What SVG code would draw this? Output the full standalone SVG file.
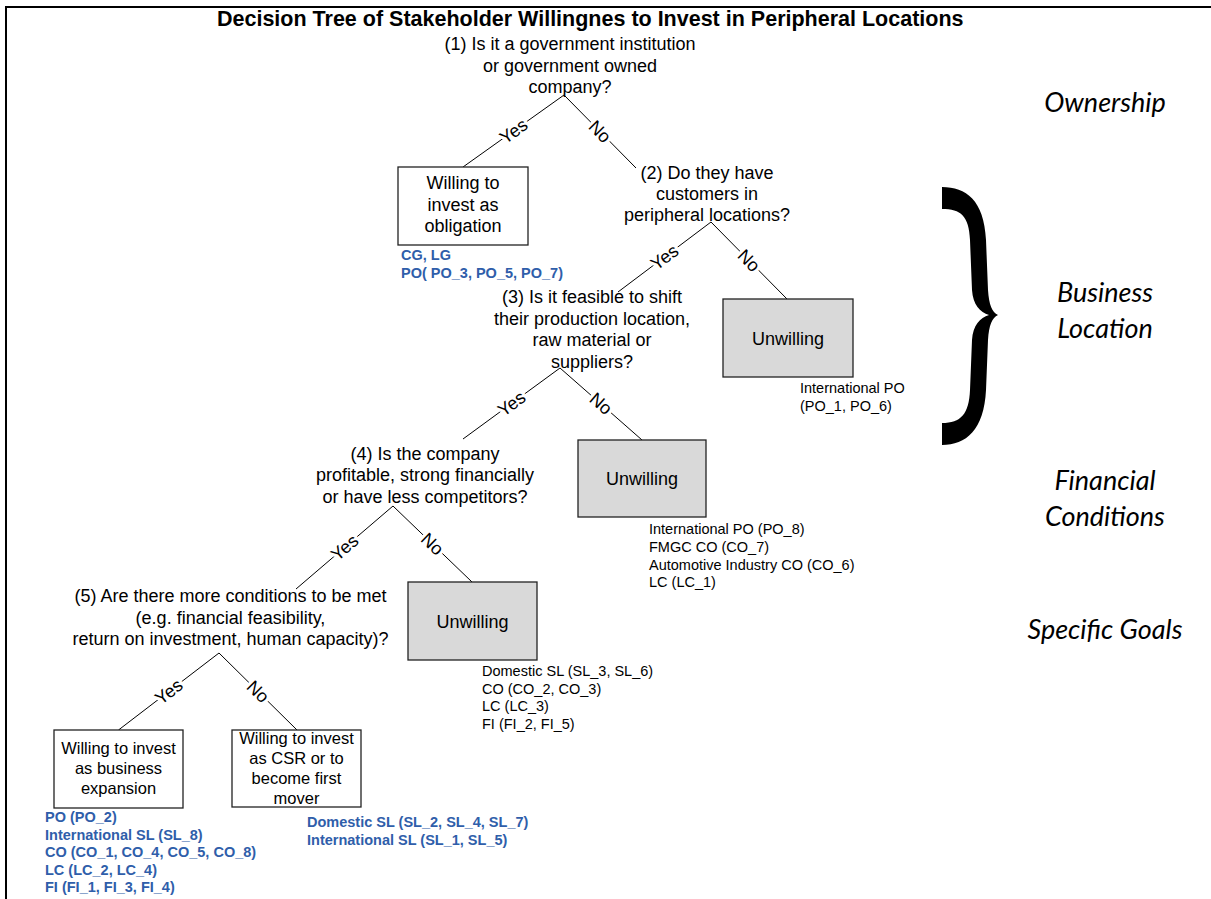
<svg xmlns="http://www.w3.org/2000/svg" width="1211" height="899" viewBox="0 0 1211 899">
<style>
.q{font-family:"Liberation Sans",Arial,sans-serif;font-size:18px;text-anchor:middle;fill:#000}
.lbl{font-family:"Liberation Sans",Arial,sans-serif;font-size:18px;text-anchor:middle;fill:#000;paint-order:stroke;stroke:#fff;stroke-width:6px;stroke-linejoin:round}
.b2{font-family:"Liberation Sans",Arial,sans-serif;font-size:16.5px;text-anchor:middle;fill:#000}
.sm{font-family:"Liberation Sans",Arial,sans-serif;font-size:14.5px;fill:#000}
.bl{font-family:"Liberation Sans",Arial,sans-serif;font-size:14.5px;font-weight:bold;fill:#2F5EAA}
.cat{font-family:Lato,"Open Sans",sans-serif;font-style:italic;font-size:27px;text-anchor:middle;fill:#000}
.title{font-family:"Liberation Sans",Arial,sans-serif;font-size:21.5px;font-weight:bold;fill:#000}
.box{fill:#fff;stroke:#222;stroke-width:1.3}
.gbox{fill:#D9D9D9;stroke:#222;stroke-width:1.3}
.con line{stroke:#000;stroke-width:1}
</style>
<rect x="0" y="0" width="1211" height="899" fill="#fff"/>
<path d="M6,899 V7 H1211" fill="none" stroke="#000" stroke-width="2"/>
<text class="title" x="217" y="26">Decision Tree of Stakeholder Willingnes to Invest in Peripheral Locations</text>

<g id="connectors" class="con">
<line x1="564" y1="95" x2="463" y2="167"/>
<line x1="564" y1="95" x2="636" y2="168"/>
<line x1="711" y1="222" x2="618" y2="292"/>
<line x1="711" y1="222" x2="787" y2="299"/>
<line x1="560" y1="368" x2="463" y2="439"/>
<line x1="560" y1="368" x2="642" y2="440"/>
<line x1="393" y1="506" x2="296" y2="589"/>
<line x1="393" y1="506" x2="472" y2="582"/>
<line x1="219" y1="653" x2="118.5" y2="730"/>
<line x1="219" y1="653" x2="297" y2="730"/>
<text class="lbl" transform="translate(513.5,131) rotate(-35.5)" dy="0.35em">Yes</text>
<text class="lbl" transform="translate(600,131.5) rotate(45.4)" dy="0.35em">No</text>
<text class="lbl" transform="translate(664.5,257) rotate(-37)" dy="0.35em">Yes</text>
<text class="lbl" transform="translate(749,260.5) rotate(45.4)" dy="0.35em">No</text>
<text class="lbl" transform="translate(511.5,403.5) rotate(-36.2)" dy="0.35em">Yes</text>
<text class="lbl" transform="translate(601,403.5) rotate(40.9)" dy="0.35em">No</text>
<text class="lbl" transform="translate(344.5,547.5) rotate(-40.6)" dy="0.35em">Yes</text>
<text class="lbl" transform="translate(432.5,544) rotate(43.9)" dy="0.35em">No</text>
<text class="lbl" transform="translate(168.75,691.5) rotate(-37.5)" dy="0.35em">Yes</text>
<text class="lbl" transform="translate(258,691.5) rotate(44.6)" dy="0.35em">No</text>
</g>

<g id="q1">
<text class="q" x="570" y="50">(1) Is it a government institution</text>
<text class="q" x="570" y="71.5">or government owned</text>
<text class="q" x="570" y="93">company?</text>
</g>
<g id="box-obligation">
<rect class="box" x="398" y="167" width="130" height="78"/>
<text class="q" x="463" y="189">Willing to</text>
<text class="q" x="463" y="210.5">invest as</text>
<text class="q" x="463" y="232">obligation</text>
<text class="bl" x="401" y="260">CG, LG</text>
<text class="bl" x="401" y="277.5">PO( PO_3, PO_5, PO_7)</text>
</g>
<g id="q2">
<text class="q" x="707" y="178.5">(2) Do they have</text>
<text class="q" x="707" y="200">customers in</text>
<text class="q" x="707" y="221">peripheral locations?</text>
</g>
<g id="unwilling-a">
<rect class="gbox" x="723" y="299" width="130" height="78"/>
<text class="q" x="788" y="344.5">Unwilling</text>
<text class="sm" x="800" y="393">International PO</text>
<text class="sm" x="800" y="411">(PO_1, PO_6)</text>
</g>
<g id="q3">
<text class="q" x="592" y="303">(3) Is it feasible to shift</text>
<text class="q" x="592" y="324.5">their production location,</text>
<text class="q" x="592" y="346">raw material or</text>
<text class="q" x="592" y="367.5">suppliers?</text>
</g>
<g id="unwilling-b">
<rect class="gbox" x="578" y="440" width="128" height="77"/>
<text class="q" x="642" y="484.5">Unwilling</text>
<text class="sm" x="649" y="534">International PO (PO_8)</text>
<text class="sm" x="649" y="551.8">FMGC CO (CO_7)</text>
<text class="sm" x="649" y="569.6">Automotive Industry CO (CO_6)</text>
<text class="sm" x="649" y="587.4">LC (LC_1)</text>
</g>
<g id="q4">
<text class="q" x="425" y="459.5">(4) Is the company</text>
<text class="q" x="425" y="481">profitable, strong financially</text>
<text class="q" x="425" y="502.5">or have less competitors?</text>
</g>
<g id="unwilling-c">
<rect class="gbox" x="408" y="582" width="129" height="78"/>
<text class="q" x="472.5" y="628">Unwilling</text>
<text class="sm" x="482" y="676">Domestic SL (SL_3, SL_6)</text>
<text class="sm" x="482" y="693.7">CO (CO_2, CO_3)</text>
<text class="sm" x="482" y="711.4">LC (LC_3)</text>
<text class="sm" x="482" y="729">FI (FI_2, FI_5)</text>
</g>
<g id="q5">
<text class="q" x="230.5" y="602">(5) Are there more conditions to be met</text>
<text class="q" x="230.5" y="623.5">(e.g. financial feasibility,</text>
<text class="q" x="230.5" y="645">return on investment, human capacity)?</text>
</g>
<g id="box-expansion">
<rect class="box" x="54" y="730" width="129" height="78"/>
<text class="b2" x="118.5" y="754">Willing to invest</text>
<text class="b2" x="118.5" y="774">as business</text>
<text class="b2" x="118.5" y="794">expansion</text>
<text class="bl" x="45" y="822">PO (PO_2)</text>
<text class="bl" x="45" y="839.5">International SL (SL_8)</text>
<text class="bl" x="45" y="857">CO (CO_1, CO_4, CO_5, CO_8)</text>
<text class="bl" x="45" y="874.5">LC (LC_2, LC_4)</text>
<text class="bl" x="45" y="892">FI (FI_1, FI_3, FI_4)</text>
</g>
<g id="box-csr">
<rect class="box" x="232" y="730" width="129" height="77"/>
<text class="b2" x="296.5" y="744">Willing to invest</text>
<text class="b2" x="296.5" y="764">as CSR or to</text>
<text class="b2" x="296.5" y="784">become first</text>
<text class="b2" x="296.5" y="803.5">mover</text>
<text class="bl" x="307" y="826.5">Domestic SL (SL_2, SL_4, SL_7)</text>
<text class="bl" x="307" y="844.5">International SL (SL_1, SL_5)</text>
</g>
<g id="brace">
<path d="M942,187 C966,187 984,200 986,240 L988,290 C989,305 992,312 998,315 C992,318 989,325 988,340 L986,390 C984,430 966,445 942,445 L942,423 C961,423 969,414 970,390 L972,340 C973,325 980,318 989,315 C980,312 973,305 972,290 L970,240 C969,216 961,209 942,209 Z" fill="#000"/>
</g>
<g id="categories">
<text class="cat" x="1105" y="112">Ownership</text>
<text class="cat" x="1105" y="302">Business</text>
<text class="cat" x="1105" y="338">Location</text>
<text class="cat" x="1105" y="490">Financial</text>
<text class="cat" x="1105" y="526">Conditions</text>
<text class="cat" x="1105" y="639">Specific Goals</text>
</g>
</svg>
